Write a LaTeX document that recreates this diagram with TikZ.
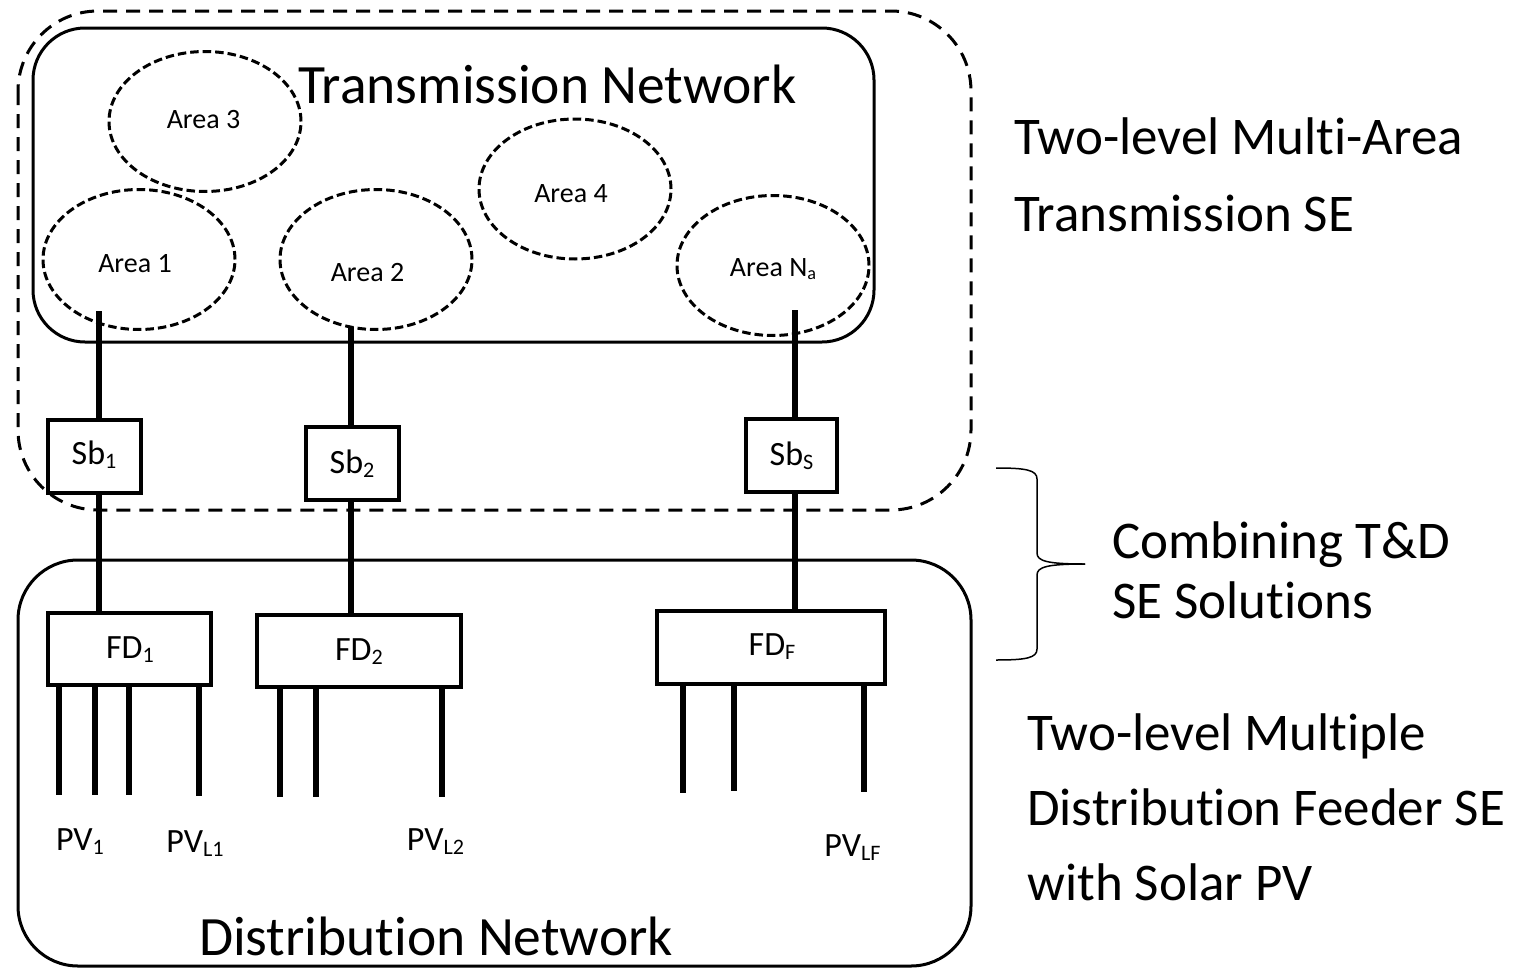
\documentclass[tikz,border=0pt]{standalone}
\usepackage{fontspec}
\setmainfont[Ligatures=NoCommon]{Carlito}
\usepackage{graphicx}
\usetikzlibrary{shapes.geometric}
\newcommand\lowsub[1]{\raisebox{-0.13em}{\scalebox{0.65}{#1}}}
\begin{document}
\begin{tikzpicture}[x=1pt,y=-1pt,
  container/.style={line width=3pt},
  outerdash/.style={line width=3pt, dash pattern=on 14pt off 9pt},
  area/.style={ellipse, draw, line width=3pt, dash pattern=on 8.5pt off 4pt, minimum width=192pt, minimum height=140pt, inner sep=0pt},
  arealabel/.style={font=\fontsize{28}{32}\selectfont, anchor=base, inner sep=0pt},
  unitbox/.style={draw, line width=4.5pt, fill=white, inner sep=0pt},
  boxlabel/.style={font=\fontsize{34}{40}\selectfont, anchor=base, inner sep=0pt},
  bus/.style={line width=6pt},
  bigtitle/.style={font=\fontsize{55.5}{66}\selectfont, anchor=base, inner sep=0pt},
  sidetext/.style={font=\fontsize{53}{62}\selectfont, anchor=base west, inner sep=0pt},
  bracepath/.style={line width=1.5pt}
]
\useasboundingbox (0,0) rectangle (1523,969);

% containers
\draw[outerdash, rounded corners=80pt] (18,11) rectangle (971,510);
\draw[container, rounded corners=52pt] (33,28) rectangle (874,342);
\draw[container, rounded corners=60pt] (18,560) rectangle (971,966);

% areas
\node[area] (a3) at (205,121.5) {};
\node[area] (a1) at (139,259.5) {};
\node[area] (a2) at (376,259.5) {};
\node[area] (a4) at (575,189) {};
\node[area] (an) at (773,265.5) {};

\node[arealabel] (la1) at (135,272) {Area 1};
\node[arealabel] (la2) at (367.5,281) {Area 2};
\node[arealabel] (la3) at (203.5,128) {Area 3};
\node[arealabel] (la4) at (571,202) {Area 4};
\node[arealabel] (lan) at (773,276) {Area N\lowsub{a}};

\node[bigtitle] (tn) at (547.5,103) {Transmission Network};
\node[bigtitle] (dn) at (436,955) {Distribution Network};

% substation and feeder boxes
\node[unitbox, minimum width=93pt, minimum height=73pt] (sb1) at (94.5,456.5) {};
\node[unitbox, minimum width=93pt, minimum height=73pt] (sb2) at (352.5,463.5) {};
\node[unitbox, minimum width=91pt, minimum height=73pt] (sbs) at (791.5,455.5) {};
\node[unitbox, minimum width=163pt, minimum height=72pt] (fd1) at (129.5,649) {};
\node[unitbox, minimum width=204pt, minimum height=72pt] (fd2) at (359,651) {};
\node[unitbox, minimum width=228pt, minimum height=73pt] (fdf) at (771,647.5) {};

% bus connectors
\coordinate (t1) at (99,311);
\coordinate (t2) at (351,327);
\coordinate (t3) at (795,310);
\draw[bus] (t1) -- (t1 |- sb1.north);
\draw[bus] (t2) -- (t2 |- sb2.north);
\draw[bus] (t3) -- (t3 |- sbs.north);
\draw[bus] (t1 |- sb1.south) -- (t1 |- fd1.north);
\draw[bus] (t2 |- sb2.south) -- (t2 |- fd2.north);
\draw[bus] (t3 |- sbs.south) -- (t3 |- fdf.north);

% labels in boxes
\node[boxlabel] (lsb1) at (94,464) {Sb\lowsub{1}};
\node[boxlabel] (lsb2) at (352,473) {Sb\lowsub{2}};
\node[boxlabel] (lsbs) at (791.5,465) {Sb\lowsub{S}};
\node[boxlabel] (lfd1) at (130,658) {FD\lowsub{1}};
\node[boxlabel] (lfd2) at (359,660) {FD\lowsub{2}};
\node[boxlabel] (lfdf) at (772,655) {FD\lowsub{F}};

% PV feeders
\coordinate (p11) at (59,795);
\coordinate (p12) at (95,795);
\coordinate (p13) at (129,795);
\coordinate (p14) at (199,796);
\coordinate (p21) at (280,797);
\coordinate (p22) at (316,797);
\coordinate (p23) at (442,797);
\coordinate (p31) at (683,793);
\coordinate (p32) at (734,791);
\coordinate (p33) at (864,792);
\foreach \p in {p11,p12,p13,p14}{\draw[bus] (\p |- fd1.south) -- (\p);}
\foreach \p in {p21,p22,p23}{\draw[bus] (\p |- fd2.south) -- (\p);}
\foreach \p in {p31,p32,p33}{\draw[bus] (\p |- fdf.south) -- (\p);}

\node[boxlabel] (pv1) at (80,850) {PV\lowsub{1}};
\node[boxlabel] (pvl1) at (195,852) {PV\lowsub{L1}};
\node[boxlabel] (pvl2) at (435.5,850) {PV\lowsub{L2}};
\node[boxlabel] (pvlf) at (852.5,856) {PV\lowsub{LF}};

% brace
\coordinate (bt) at (996,468);
\coordinate (bb) at (996,660);
\coordinate (btip) at (1085,564);
\draw[bracepath] (bt) .. controls (1026,468) and (1037,470) .. (1037,479) -- (1037,553)
  .. controls (1037,561) and (1047,564) .. (btip);
\draw[bracepath] (btip) .. controls (1047,564) and (1037,567) .. (1037,575) -- (1037,649)
  .. controls (1037,658) and (1026,660) .. (bb);

% side texts
\node[sidetext] (s1a) at (1014,154) {Two-level Multi-Area};
\node[sidetext] (s1b) at (1014,231) {Transmission SE};
\node[sidetext] (s2a) at (1112,558) {Combining T\&D};
\node[sidetext] (s2b) at (1112,618) {SE Solutions};
\node[sidetext] (s3a) at (1027,750) {Two-level Multiple};
\node[sidetext] (s3b) at (1027,825) {Distribution Feeder SE};
\node[sidetext] (s3c) at (1027,900) {with Solar PV};
\end{tikzpicture}
\end{document}
